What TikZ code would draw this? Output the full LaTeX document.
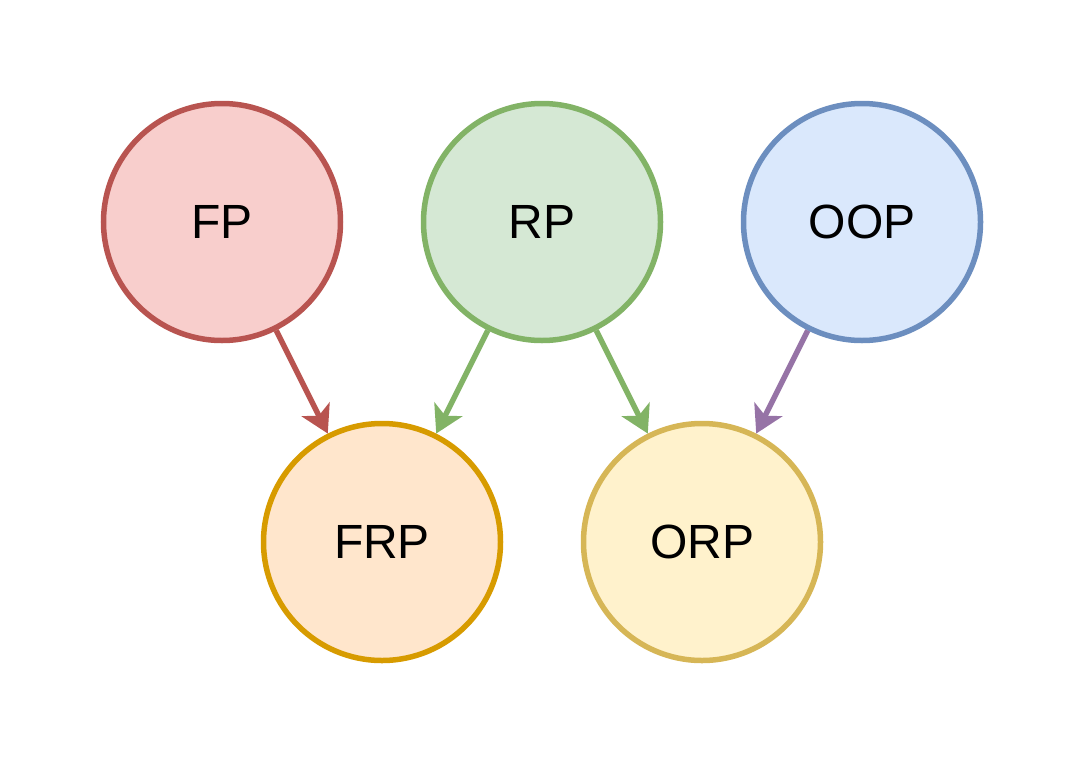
\documentclass[tikz,border=0pt]{standalone}
\usepackage{fontspec}
\setmainfont{Liberation Sans}
\usepackage{tikz}
\usetikzlibrary{arrows.meta,automata,positioning}

\definecolor{fpfill}{HTML}{F8CECC}\definecolor{fpline}{HTML}{B85450}
\definecolor{rpfill}{HTML}{D5E8D4}\definecolor{rpline}{HTML}{82B366}
\definecolor{oopfill}{HTML}{DAE8FC}\definecolor{oopline}{HTML}{6C8EBF}
\definecolor{frpfill}{HTML}{FFE6CC}\definecolor{frpline}{HTML}{D79B00}
\definecolor{orpfill}{HTML}{FFF2CC}\definecolor{orpline}{HTML}{D6B656}
\definecolor{purpline}{HTML}{9673A6}

\begin{document}
\begin{tikzpicture}[-{Stealth[length=27pt,width=31pt,inset=7pt]},line width=5.5pt,
                    every node/.style={font=\fontsize{48}{57}\selectfont}]
  \tikzstyle{every state}=[circle,minimum size=237pt,inner sep=0pt,line width=5.5pt,text=black]

  \useasboundingbox (-222pt,222pt) rectangle (864pt,-544pt);

  \node[state,fill=fpfill,draw=fpline]   (fp)  at (0pt,0pt)      {FP};
  \node[state,fill=rpfill,draw=rpline]   (rp)  [right=77.5pt of fp] {RP};
  \node[state,fill=oopfill,draw=oopline] (oop) [right=77.5pt of rp] {OOP};
  \node[state,fill=frpfill,draw=frpline] (frp) at (160pt,-320pt) {FRP};
  \node[state,fill=orpfill,draw=orpline] (orp) at (480pt,-320pt) {ORP};

  \path (fp) edge [draw=fpline,line width=5.5pt] (frp)
        (rp) edge [draw=rpline,line width=5.5pt] (frp)
             edge [draw=rpline,line width=5.5pt] (orp)
        (oop) edge [draw=purpline,line width=5.5pt] (orp);
\end{tikzpicture}
\end{document}
